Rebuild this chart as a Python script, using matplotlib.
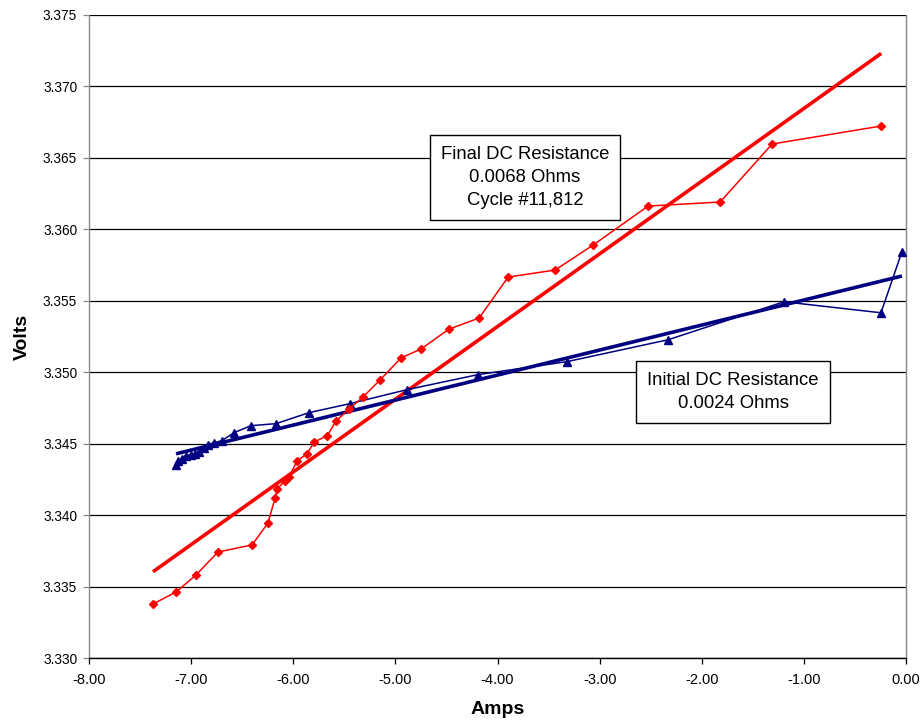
import numpy as np
import matplotlib
matplotlib.use("Agg")
import matplotlib.pyplot as plt

# Final cycle measurements (current in A, terminal voltage in V)
final_amps = [-7.373, -7.148, -6.952, -6.737, -6.404, -6.247, -6.178, -6.159,
              -6.080, -6.041, -5.963, -5.865, -5.796, -5.669, -5.581, -5.453,
              -5.316, -5.150, -4.944, -4.748, -4.474, -4.180, -3.896, -3.436,
              -3.064, -2.525, -1.820, -1.311, -0.243]
final_volts = [3.33378, 3.33462, 3.33581, 3.33742, 3.33791, 3.33945, 3.34120, 3.34183,
               3.34239, 3.34267, 3.34379, 3.34428, 3.34512, 3.34554, 3.34659, 3.34743,
               3.34827, 3.34946, 3.35100, 3.35163, 3.35302, 3.35379, 3.35666, 3.35715,
               3.35890, 3.36163, 3.36191, 3.36597, 3.36723]

# Initial cycle measurements
initial_amps = [-7.148, -7.128, -7.089, -7.050, -7.001, -6.962, -6.923, -6.874,
                -6.835, -6.776, -6.698, -6.580, -6.414, -6.169, -5.846, -5.445,
                -4.887, -4.192, -3.320, -2.331, -1.195, -0.245, -0.040]
initial_volts = [3.34353, 3.34381, 3.34395, 3.34416, 3.34423, 3.34430, 3.34444, 3.34472,
                 3.34493, 3.34507, 3.34521, 3.34577, 3.34626, 3.34640, 3.34717, 3.34780,
                 3.34878, 3.34983, 3.35074, 3.35227, 3.35493, 3.35416, 3.35843]

x_ticks = [-8, -7, -6, -5, -4, -3, -2, -1, 0]
y_ticks = [3.330, 3.335, 3.340, 3.345, 3.350, 3.355, 3.360, 3.365, 3.370, 3.375]

final_label = "Final DC Resistance\n0.0068 Ohms\nCycle #11,812"
initial_label = "Initial DC Resistance\n0.0024 Ohms"

RED = "#FF0000"
NAVY = "#000080"

plt.rcParams["font.family"] = ["Liberation Sans", "DejaVu Sans"]

fig = plt.figure(figsize=(9.23, 7.23), dpi=100)
ax = fig.add_axes([89 / 923, 65 / 723, (906 - 89) / 923, (658 - 15) / 723])

# Least-squares trendlines
for xs, ys, col in ((final_amps, final_volts, RED), (initial_amps, initial_volts, NAVY)):
    xs = np.asarray(xs)
    k, b = np.polyfit(xs, np.asarray(ys), 1)
    xr = np.array([xs.min(), xs.max()])
    ax.plot(xr, k * xr + b, color=col, lw=2.6, zorder=3, solid_capstyle="butt")

ax.plot(initial_amps, initial_volts, color=NAVY, lw=1.1, marker="^", ms=6,
        mec=NAVY, mfc=NAVY, zorder=4)
ax.plot(final_amps, final_volts, color=RED, lw=1.1, marker="D", ms=3.7,
        mec=RED, mfc=RED, zorder=5)

ax.set_xlim(-8, 0)
ax.set_ylim(3.330, 3.375)
ax.set_xticks(x_ticks)
ax.set_xticklabels([f"{v:.2f}" for v in x_ticks])
ax.set_yticks(y_ticks)
ax.set_yticklabels([f"{v:.3f}" for v in y_ticks])

ax.yaxis.grid(True, color="black", lw=0.9)
ax.set_axisbelow(True)
for lab in ax.get_yticklabels():
    lab.set_fontsize(9.8)
for lab in ax.get_xticklabels():
    lab.set_fontsize(10.5)
ax.tick_params(axis="both", direction="out", length=4, width=0.9, colors="black")
ax.tick_params(axis="y", color="#888888", pad=4.5)
ax.tick_params(axis="x", pad=7)

ax.spines["top"].set_visible(False)
ax.spines["left"].set_color("#888888")
ax.spines["right"].set_color("#888888")
ax.spines["bottom"].set_color("black")
for s in ax.spines.values():
    s.set_linewidth(1.0)

ax.set_xlabel("Amps", fontsize=14, fontweight="bold", labelpad=10)
ax.set_ylabel("Volts", fontsize=14, fontweight="bold", labelpad=9)

box = dict(boxstyle="square,pad=0.6", fc="white", ec="black", lw=1.0)
ax.text(-3.731, 3.36363, final_label, ha="center", va="center", fontsize=13.3,
        linespacing=1.45, bbox=box, zorder=6)
ax.text(-1.694, 3.34862, initial_label, ha="center", va="center", fontsize=13.3,
        linespacing=1.45, bbox=box, zorder=6)

fig.savefig("out.png", dpi=100)
